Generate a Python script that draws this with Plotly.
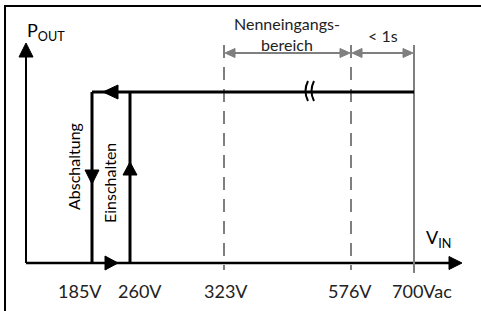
import numpy as np
import plotly.graph_objects as go

# ---- data ----
voltages = [185, 260, 323, 576, 700]            # V
tick_labels = ["185V", "260V", "323V", "576V", "700Vac"]
v_off, v_on = 185, 260                          # Abschaltung / Einschalten
nominal_range = (323, 576)                      # Nenneingangsbereich
v_max = 700                                     # < 1s
p_levels = [0.0, 1.0]                           # P_OUT off / on

# ---- broken-axis scale (volts -> screen x), power -> screen y ----
W, H = 481, 311
AX_V = [0, 185, 260, 323, 576, 700, 760]
AX_X = [26, 92, 130, 224, 351, 414, 462]
def sx(v):
    return float(np.interp(v, AX_V, AX_X))
Y0, Y1 = 263, 92
def sy(p):
    return Y0 + (Y1 - Y0) * p

BLACK = "#000000"
GRAY = "#7f7f7f"
FONT = "Lato"

fig = go.Figure()

def line(xs, ys, color=BLACK, width=3, dash=None):
    fig.add_trace(go.Scatter(x=xs, y=ys, mode="lines", hoverinfo="skip",
                             line=dict(color=color, width=width, dash=dash)))

def tri(tx, ty, d, length=13, half=6.5, color=BLACK):
    if d == "up":
        xs = [tx, tx - half, tx + half]; ys = [ty, ty + length, ty + length]
    elif d == "down":
        xs = [tx, tx - half, tx + half]; ys = [ty, ty - length, ty - length]
    elif d == "left":
        xs = [tx, tx + length, tx + length]; ys = [ty, ty - half, ty + half]
    else:
        xs = [tx, tx - length, tx - length]; ys = [ty, ty - half, ty + half]
    fig.add_trace(go.Scatter(x=xs + [xs[0]], y=ys + [ys[0]], mode="lines",
                             fill="toself", fillcolor=color, hoverinfo="skip",
                             line=dict(color=color, width=1)))

# axes
x_end = sx(760)
line([sx(0), sx(0)], [sy(0), 57], width=2)
tri(sx(0), 43, "up", length=14, half=7)
line([sx(0), x_end - 12], [sy(0), sy(0)], width=2.5)
tri(x_end, sy(0), "right", length=13, half=6.5)

# nominal range / limit lines
for v in nominal_range:
    line([sx(v), sx(v)], [45, 270], color=GRAY, width=2, dash="13px,9px")
line([sx(v_max), sx(v_max)], [45, 273], color=GRAY, width=2)

# dimension arrows
dim_y = 53
line([sx(nominal_range[0]) + 8, sx(nominal_range[1]) - 8], [dim_y, dim_y], color=GRAY, width=2)
tri(sx(nominal_range[0]) + 1, dim_y, "left", length=10, half=4.5, color=GRAY)
tri(sx(nominal_range[1]) - 1, dim_y, "right", length=10, half=4.5, color=GRAY)
line([sx(nominal_range[1]) + 8, sx(v_max) - 8], [dim_y, dim_y], color=GRAY, width=2)
tri(sx(nominal_range[1]) + 1, dim_y, "left", length=10, half=4.5, color=GRAY)
tri(sx(v_max) - 1, dim_y, "right", length=10, half=4.5, color=GRAY)

# hysteresis path
line([sx(v_on), sx(v_on)], [sy(p_levels[0]), sy(p_levels[1])], width=3)
line([sx(v_off), sx(v_max)], [sy(p_levels[1]), sy(p_levels[1])], width=3)
line([sx(v_off), sx(v_off)], [sy(p_levels[1]), sy(p_levels[0])], width=3)
tri(sx(v_off) + 11, sy(1), "left", length=15, half=7)
tri(sx(v_off), 184, "down", length=14, half=7)
tri(sx(v_on), 162, "up", length=13, half=7)
tri(sx(v_off) + 26, sy(0), "right", length=13, half=7)

# break mark
shapes = []
bx = 306
for dx in (0, 6):
    shapes.append(dict(type="path", xref="x", yref="y",
                       path=f"M {bx+dx+2},81 Q {bx+dx-3},91 {bx+dx+2},101",
                       line=dict(color=BLACK, width=2)))
# frame
shapes.append(dict(type="rect", xref="x", yref="y", x0=5, y0=6, x1=W + 5, y1=H + 5,
                   line=dict(color=BLACK, width=2), layer="below"))

ann = []
def text(x, y, s, size=15, color=BLACK, angle=0, xanchor="center"):
    ann.append(dict(x=x, y=y, xref="x", yref="y", text=s, showarrow=False,
                    font=dict(family=FONT, size=size, color=color),
                    textangle=angle, xanchor=xanchor, yanchor="middle"))

for v, lab, off in zip(voltages, tick_labels, [-12, 10, 2, -1, 8]):
    text(sx(v) + off, 291, lab, size=18, color="#222222")
text(25, 31, "P<sub>OUT</sub>", size=18, xanchor="left")
text(424, 238, "V<sub>IN</sub>", size=18, xanchor="left")
text(287, 34, "Nenneingangs-<br>bereich", size=16, color="#222222")
text(383, 35, "< 1s", size=16, color="#222222")
text(73, 167, "Abschaltung", size=16, angle=-90)
text(109, 183, "Einschalten", size=16, angle=-90)

fig.update_layout(
    width=W, height=H, margin=dict(l=0, r=0, t=0, b=0),
    paper_bgcolor="white", plot_bgcolor="white", showlegend=False,
    xaxis=dict(range=[0, W], visible=False, fixedrange=True),
    yaxis=dict(range=[H, 0], visible=False, fixedrange=True),
    shapes=shapes, annotations=ann,
)
fig.write_html("out.html", config={"displayModeBar": False},
               post_script="document.body.style.margin='0';document.body.style.overflow='hidden';")
